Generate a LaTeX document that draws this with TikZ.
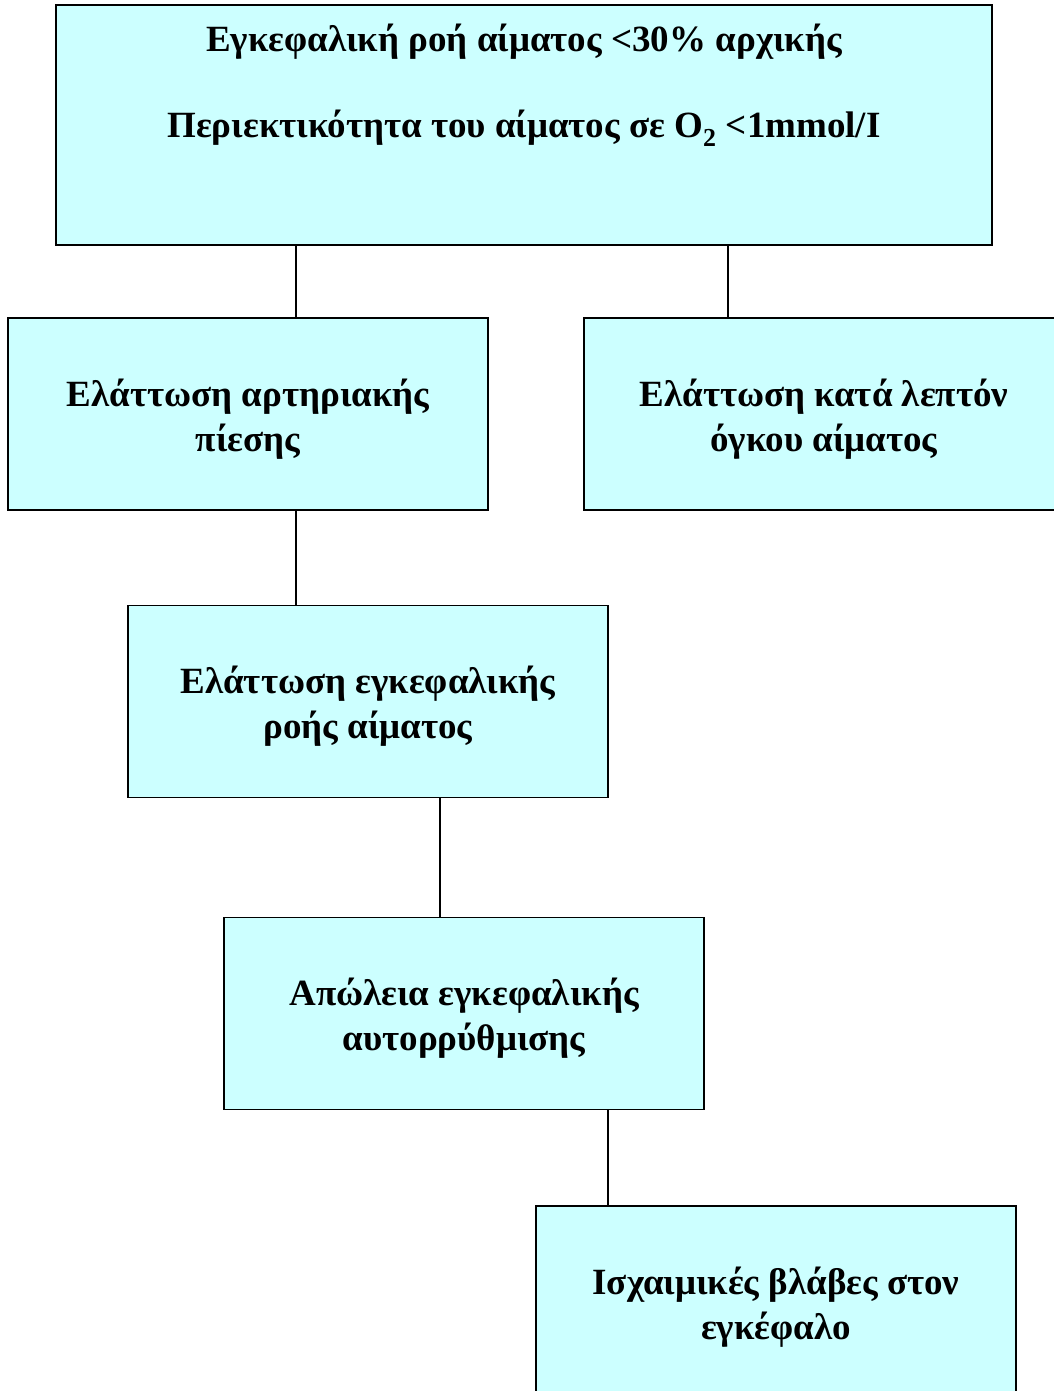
\documentclass[tikz,border=0pt]{standalone}
\usepackage{fontspec}
\setmainfont{Liberation Serif}
\usepackage{xcolor}
\usetikzlibrary{calc,positioning}
\definecolor{boxcyan}{HTML}{CCFFFF}

\begin{document}
\begin{tikzpicture}[x=1pt, y=-1pt, blk/.style={draw, line width=1.8pt, fill=boxcyan, minimum width=480, minimum height=192, inner sep=0pt, align=center, font=\fontsize{37}{45}\selectfont\bfseries, text height=82pt}, lnk/.style={line width=1.8pt}]
\useasboundingbox (0,0) rectangle (1053,1391);
\node[blk, text height=, minimum width=936, minimum height=240, label={[anchor=north, inner sep=0pt, align=center, yshift=-20pt, font=\fontsize{37}{45}\selectfont\bfseries]north:{Εγκεφαλική ροή αίματος <30\% αρχικής\\[41pt]Περιεκτικότητα του αίματος σε O\textsubscript{2} <1mmol/I}}] (top) at (524,125){};
\node[blk] (left) at (248,414){Ελάττωση αρτηριακής\\πίεσης};
\node[blk] (right) at (824,414){Ελάττωση κατά λεπτόν\\όγκου αίματος};
\node[blk] (mid) at (368,701.5){Ελάττωση εγκεφαλικής\\ροής αίματος};
\node[blk] (auto) at (464,1013.5){Απώλεια εγκεφαλικής\\αυτορρύθμισης};
\node[blk] (isch) at (776,1302){Ισχαιμικές βλάβες στον\\εγκέφαλο};
\foreach \i/\a/\j/\b in {top/-228/left/48,top/204/right/-96,left/48/mid/-72,mid/72/auto/-24,auto/144/isch/-168}{\draw[lnk] ([xshift=\a pt]\i.south) -- ([xshift=\b pt]\j.north);}
\end{tikzpicture}
\end{document}
